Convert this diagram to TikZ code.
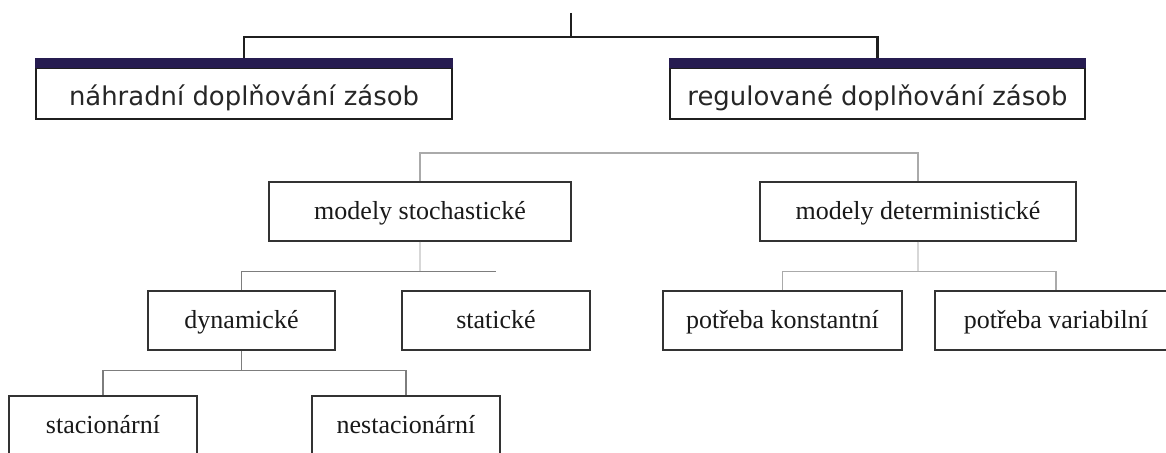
\documentclass[tikz,border=0pt]{standalone}
\usepackage{fontspec}
\setmainfont{Liberation Serif}
\newfontfamily\boxsans{DejaVu Sans}
\definecolor{navybar}{RGB}{38,28,80}
\definecolor{linegray}{RGB}{125,125,125}
\definecolor{lightline}{RGB}{170,170,170}
\definecolor{faintline}{RGB}{215,215,215}
\begin{document}
\begin{tikzpicture}[x=1pt,y=-1pt,
  topbox/.style={draw=black!88, line width=2.2pt, fill=white, inner xsep=0pt, inner ysep=0pt,
    text height=37pt, text depth=14pt, minimum width=#1, anchor=base,
    font=\boxsans\fontsize{25.9}{30}\selectfont, text=black!85},
  barbox/.style={fill=navybar, inner sep=0pt, minimum width=#1, minimum height=10pt},
  topline/.style={draw=black!88, line width=2.2pt},
  subbox/.style={draw=black!80, line width=1.6pt, fill=white, inner xsep=0pt, inner ysep=0pt,
    text height=38pt, text depth=21pt, minimum width=#1, anchor=base,
    font=\fontsize{26}{30}\selectfont, text=black!90},
  conn/.style={draw=linegray, line width=1.1pt},
  lightconn/.style={draw=lightline, line width=1.1pt},
  faintconn/.style={draw=faintline, line width=1.1pt}]
\path[use as bounding box] (0,0) rectangle (1166,452);
\clip (0,0) rectangle (1166,452);

% top level boxes
\node[topbox=415.8] (A) at (244,105) {náhradní doplňování zásob};
\node[topbox=414.8] (B) at (877.5,105) {regulované doplňování zásob};
\node[barbox=418] (Abar) at (244,63) {};
\node[barbox=417] (Bbar) at (877.5,63) {};

\coordinate (t) at (571,13);
\draw[topline] (t) -- ++(0,24);
\draw[topline] (Abar.north) -- ++(0,-21) -| (Bbar.north);

% second level
\node[subbox=302.4] (S) at (420,219.8) {modely stochastické};
\node[subbox=316] (D) at (918,219.8) {modely deterministické};
\draw[lightconn] (S.north) -- ++(0,-28) -| (D.north);

% third level
\node[subbox=187.4] (Dy) at (241.5,328.8) {dynamické};
\node[subbox=188.4] (St) at (496,328.8) {statické};
\node[subbox=239.4] (K) at (782.5,328.8) {potřeba konstantní};
\node[subbox=242.4] (V) at (1056,328.8) {potřeba variabilní};

\path (S.south) ++(0,30) coordinate (sbar);
\draw[faintconn] (S.south) -- (sbar);
\draw[conn] (Dy.north) |- (St.north |- sbar);

\path (D.south) ++(0,30) coordinate (dbar);
\draw[faintconn] (D.south) -- (dbar);
\draw[lightconn] (K.north) |- (dbar) -| (V.north);

% fourth level
\node[subbox=188.4] (Sc) at (103,433.8) {stacionární};
\node[subbox=188.4] (Nc) at (406,433.8) {nestacionární};
\path (Dy.south) ++(0,20) coordinate (dybar);
\draw[conn] (Dy.south) -- (dybar);
\draw[conn] (Sc.north) |- (dybar) -| (Nc.north);
\end{tikzpicture}
\end{document}
